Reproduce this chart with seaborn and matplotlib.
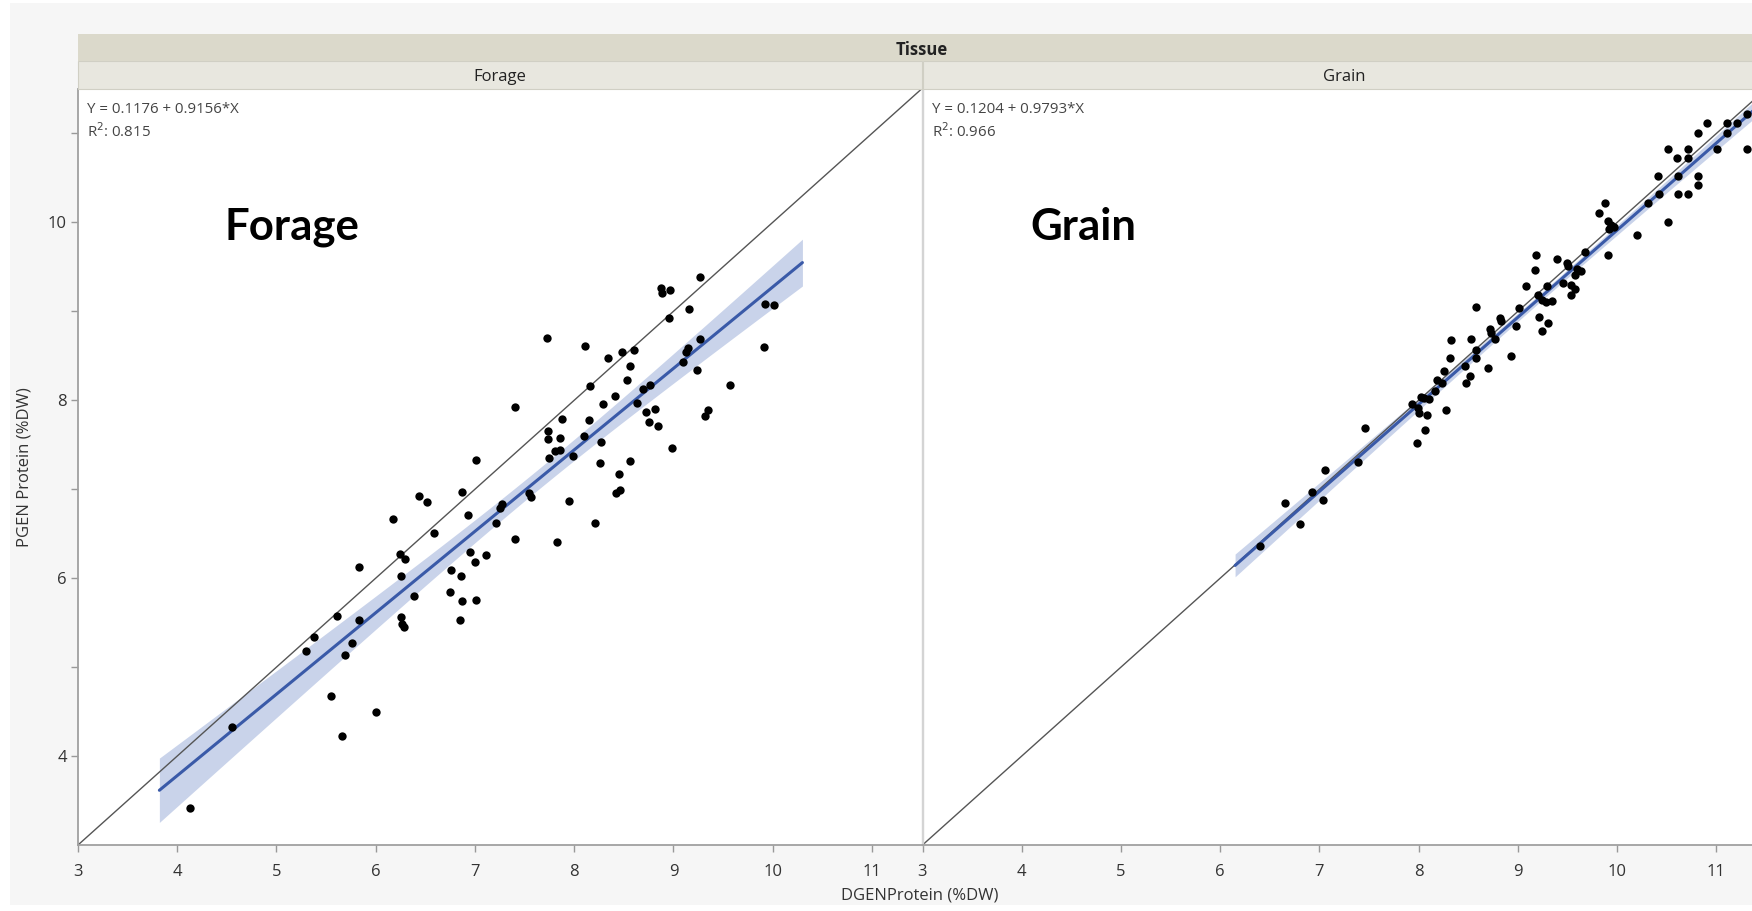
import numpy as np
import pandas as pd
import matplotlib
matplotlib.use("Agg")
import matplotlib.pyplot as plt
import seaborn as sns
from matplotlib.patches import Rectangle

# points (DGEN = x, PGEN = y)
forage_x = [4.13, 4.55, 5.30, 5.38, 5.55, 5.61, 5.66, 5.69, 5.76, 5.83, 5.83, 6.00,
            6.17, 6.24, 6.25, 6.25, 6.26, 6.30, 6.29, 6.39, 6.44, 6.52, 6.59, 6.76,
            6.75, 6.87, 6.85, 6.87, 6.86, 6.93, 6.95, 7.01, 7.01, 7.00, 7.11, 7.21,
            7.25, 7.27, 7.40, 7.40, 7.54, 7.56, 7.73, 7.74, 7.74, 7.75, 7.81, 7.86,
            7.83, 7.88, 7.86, 7.95, 7.99, 8.10, 8.11, 8.15, 8.16, 8.21, 8.26, 8.27,
            8.29, 8.34, 8.41, 8.42, 8.46, 8.45, 8.48, 8.53, 8.56, 8.60, 8.56, 8.63,
            8.69, 8.76, 8.72, 8.75, 8.81, 8.84, 8.87, 8.89, 8.97, 8.96, 8.99, 9.10,
            9.13, 9.15, 9.16, 9.24, 9.27, 9.27, 9.35, 9.32, 9.57, 9.91, 9.92, 10.01]
forage_y = [3.42, 4.33, 5.18, 5.34, 4.67, 5.57, 4.23, 5.14, 5.27, 5.53, 6.13, 4.50,
            6.67, 6.27, 6.03, 5.56, 5.48, 6.21, 5.45, 5.80, 6.92, 6.86, 6.51, 6.09,
            5.84, 6.97, 5.53, 5.74, 6.03, 6.71, 6.29, 7.33, 5.75, 6.18, 6.26, 6.62,
            6.79, 6.83, 6.44, 7.93, 6.96, 6.91, 8.70, 7.66, 7.57, 7.35, 7.43, 7.44,
            6.41, 7.79, 7.58, 6.87, 7.37, 7.60, 8.61, 7.78, 8.16, 6.62, 7.30, 7.53,
            7.96, 8.47, 8.05, 6.96, 6.99, 7.17, 8.54, 8.23, 7.32, 8.56, 8.39, 7.97,
            8.13, 8.17, 7.87, 7.76, 7.90, 7.71, 9.26, 9.21, 9.24, 8.92, 7.46, 8.43,
            8.54, 8.59, 9.03, 8.34, 8.69, 9.39, 7.89, 7.82, 8.17, 8.60, 9.08, 9.07]

grain_x = [6.40, 6.65, 6.80, 6.92, 7.04, 7.06, 7.39, 7.46, 7.93, 7.99, 8.00, 8.08,
           7.98, 8.06, 8.02, 8.05, 8.10, 8.16, 8.18, 8.23, 8.26, 8.28, 8.32, 8.33,
           8.47, 8.52, 8.48, 8.53, 8.58, 8.58, 8.58, 8.70, 8.72, 8.73, 8.77, 8.82,
           8.83, 8.93, 8.98, 9.01, 9.20, 9.21, 9.24, 9.30, 9.08, 9.29, 9.24, 9.28,
           9.34, 9.17, 9.18, 9.39, 9.45, 9.49, 9.50, 9.54, 9.58, 9.54, 9.60, 9.64,
           9.58, 9.68, 9.82, 9.88, 9.91, 9.94, 9.92, 9.97, 9.91, 10.20, 10.31, 10.42,
           10.41, 10.51, 10.51, 10.60, 10.61, 10.61, 10.71, 10.71, 10.71, 10.81, 10.81, 10.81,
           10.91, 11.01, 11.11, 11.11, 11.21, 11.31, 11.31]
grain_y = [6.36, 6.85, 6.61, 6.97, 6.88, 7.22, 7.31, 7.69, 7.96, 7.91, 7.86, 7.83,
           7.52, 7.67, 8.04, 8.03, 8.02, 8.11, 8.23, 8.19, 8.33, 7.89, 8.47, 8.68,
           8.39, 8.27, 8.19, 8.69, 8.56, 8.47, 9.05, 8.36, 8.80, 8.76, 8.69, 8.93,
           8.89, 8.50, 8.83, 9.04, 9.18, 8.94, 8.78, 8.87, 9.29, 9.28, 9.13, 9.11,
           9.12, 9.47, 9.63, 9.59, 9.32, 9.54, 9.51, 9.30, 9.25, 9.18, 9.48, 9.45,
           9.41, 9.67, 10.11, 10.22, 10.02, 9.97, 9.93, 9.95, 9.63, 9.86, 10.22, 10.32,
           10.52, 10.01, 10.82, 10.72, 10.52, 10.32, 10.82, 10.72, 10.32, 10.52, 10.42, 11.01,
           11.12, 10.82, 11.12, 11.01, 11.12, 11.22, 10.82]

tissues = ["Forage", "Grain"]
intercepts = [0.1176, 0.1204]
slopes = [0.9156, 0.9793]
r_squared = ["0.815", "0.966"]
fit_start = [3.82, 6.15]
fit_end = [10.30, 11.70]

x_ticks = [3, 4, 5, 6, 7, 8, 9, 10, 11]
y_major = [4, 6, 8, 10]
y_minor = [5, 7, 9, 11]

W, H = 1752, 911
T95 = 1.985

sns.set_theme(style="white")
plt.rcParams["font.family"] = ["Open Sans", "DejaVu Sans"]

fig = plt.figure(figsize=(W / 100, H / 100), dpi=100)
fig.patch.set_facecolor("white")
# JMP window grey
fig.add_artist(Rectangle((10 / W, 6 / H), 1, 1 - 9 / H, transform=fig.transFigure,
                         facecolor="#f6f6f6", edgecolor="none", zorder=-5))

bottom_px, top_px = 845, 89
panel_w = 843.5
lefts = [78, 922.5]
data = [(forage_x, forage_y), (grain_x, grain_y)]

for i, tissue in enumerate(tissues):
    ax = fig.add_axes([lefts[i] / W, (H - bottom_px) / H, panel_w / W, (bottom_px - top_px) / H])
    ax.set_facecolor("white")
    df = pd.DataFrame({"x": data[i][0], "y": data[i][1]})

    # confidence band of the fitted mean
    b0, b1 = intercepts[i], slopes[i]
    res = df["y"] - (b0 + b1 * df["x"])
    n = len(df)
    s = np.sqrt((res ** 2).sum() / (n - 2))
    xbar = df["x"].mean()
    sxx = ((df["x"] - xbar) ** 2).sum()
    xs = np.linspace(fit_start[i], fit_end[i], 100)
    fit = b0 + b1 * xs
    half = T95 * s * np.sqrt(1 / n + (xs - xbar) ** 2 / sxx)
    ax.fill_between(xs, fit - half, fit + half, color="#c9d3ea", lw=0, zorder=1)

    ax.axline((3, 3), slope=1, color="#555555", lw=1.0, zorder=2)
    sns.lineplot(x=xs, y=fit, ax=ax, color="#3a5aa8", lw=2.2, zorder=3)
    sns.scatterplot(data=df, x="x", y="y", ax=ax, color="black", s=36,
                    linewidth=0, zorder=4)

    ax.set_xlim(3, 11.5)
    ax.set_ylim(3, 11.5)
    ax.set_xticks(x_ticks)
    ax.set_xticklabels([str(t) for t in x_ticks])
    ax.tick_params(axis="x", direction="out", length=5, width=1, color="#999999",
                   labelsize=12, labelcolor="#333333", pad=9, bottom=True)
    ax.set_xlabel("")
    ax.set_ylabel("")
    for sp in ax.spines.values():
        sp.set_linewidth(1)
    ax.spines["top"].set_visible(False)
    ax.spines["bottom"].set_color("#a0a0a0")
    ax.spines["bottom"].set_linewidth(1.3)
    if i == 0:
        ax.set_yticks(y_major)
        ax.set_yticks(y_minor, minor=True)
        ax.set_yticklabels([str(t) for t in y_major])
        ax.tick_params(axis="y", which="both", direction="out", length=5, width=1,
                       color="#999999", labelsize=12, labelcolor="#333333", pad=3, left=True)
        ax.spines["left"].set_color("#a0a0a0")
        ax.spines["left"].set_linewidth(1.3)
        ax.spines["right"].set_color("#d4d4d4")
    else:
        ax.set_yticks([])
        ax.spines["left"].set_color("#d4d4d4")
        ax.spines["right"].set_visible(False)

    ax.text(0.011, 0.973, f"Y = {b0} + {b1}*X", transform=ax.transAxes,
            fontsize=10.8, color="#444444", va="center", ha="left")
    ax.text(0.011, 0.943, f"R$^2$: {r_squared[i]}", transform=ax.transAxes,
            fontsize=10.8, color="#444444", va="center", ha="left")
    big_x = [4.48, 4.09][i]
    ax.text(big_x, 9.95, tissue, fontsize=31.5, fontweight="bold", color="black",
            va="center", ha="left", family=["Lato", "DejaVu Sans"])

    # facet strip
    fig.add_artist(Rectangle((lefts[i] / W, (H - top_px) / H), panel_w / W, 28 / H,
                             transform=fig.transFigure, facecolor="#e8e7df",
                             edgecolor="#d0cfc4", lw=0.8, zorder=1))
    fig.text((lefts[i] + panel_w / 2) / W, (H - 77) / H, tissue, fontsize=12,
             color="#222222", ha="center", va="center", zorder=2)

# top strip
fig.add_artist(Rectangle((78 / W, (H - 61) / H), 1, 26.5 / H, transform=fig.transFigure,
                         facecolor="#dbd9cb", edgecolor="none", zorder=1))
fig.text(922 / W, (H - 50) / H, "Tissue", fontsize=12, fontweight="bold",
         color="#222222", ha="center", va="center", zorder=2)

fig.text(920 / W, (H - 895) / H, "DGENProtein (%DW)", fontsize=12,
         color="#333333", ha="center", va="center")
fig.text(25 / W, (H - 467) / H, "PGEN Protein (%DW)", fontsize=12,
         color="#333333", ha="center", va="center", rotation=90)

fig.savefig("out.png", dpi=100)
